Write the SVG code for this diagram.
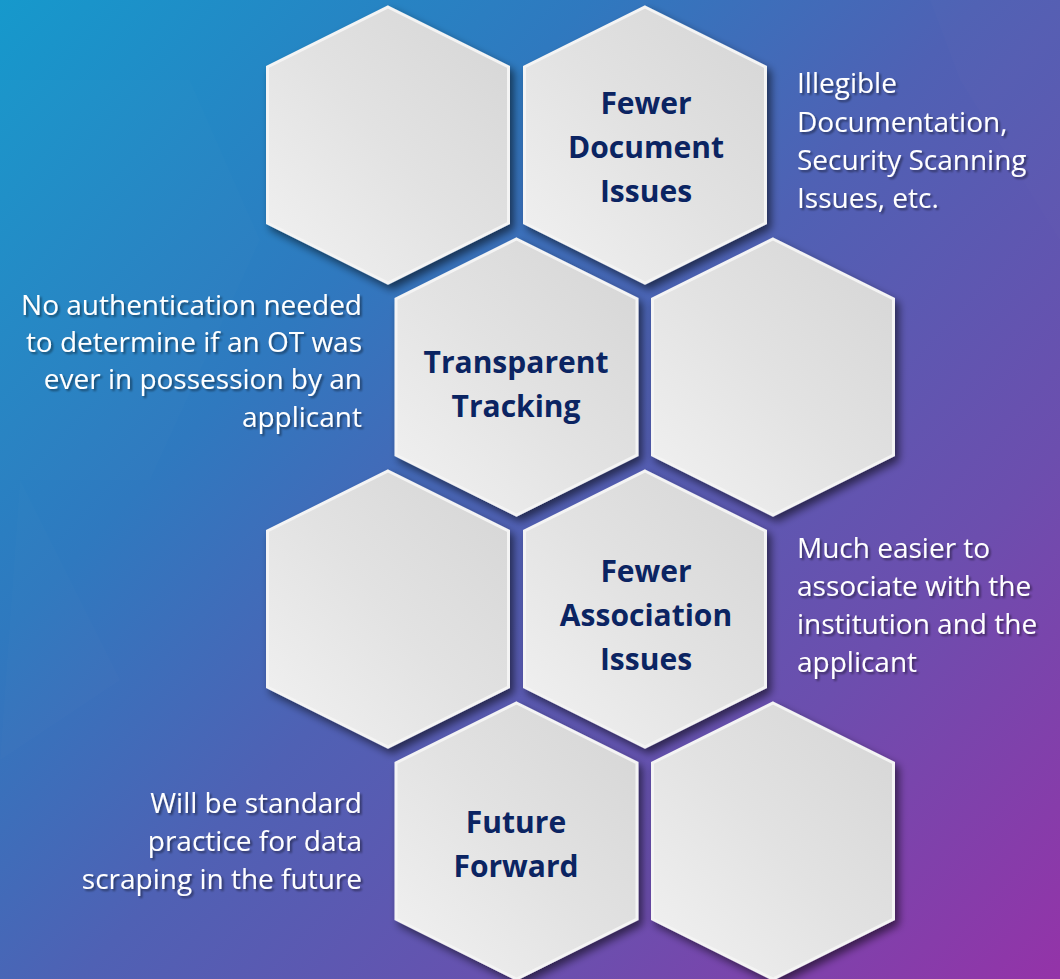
<svg xmlns="http://www.w3.org/2000/svg" width="1060" height="979" viewBox="0 0 1060 979">
  <defs>
    <linearGradient id="bg" gradientUnits="userSpaceOnUse" x1="0" y1="0" x2="1060" y2="979">
      <stop offset="0" stop-color="#1699cc"/>
      <stop offset="0.3" stop-color="#2f79bf"/>
      <stop offset="0.5" stop-color="#4f61b4"/>
      <stop offset="0.75" stop-color="#6c4eae"/>
      <stop offset="1" stop-color="#9433a8"/>
    </linearGradient>
    <linearGradient id="hexFill" x1="0" y1="1" x2="1" y2="0">
      <stop offset="0" stop-color="#f2f2f2"/>
      <stop offset="0.5" stop-color="#e2e2e2"/>
      <stop offset="1" stop-color="#d5d5d5"/>
    </linearGradient>
    <filter id="shadow" x="-20%" y="-20%" width="140%" height="140%">
      <feGaussianBlur in="SourceAlpha" stdDeviation="4"/>
      <feOffset dx="4" dy="5" result="b"/>
      <feComponentTransfer><feFuncA type="linear" slope="0.55"/></feComponentTransfer>
      <feMerge><feMergeNode/><feMergeNode in="SourceGraphic"/></feMerge>
    </filter>
    <filter id="tshadow" x="-10%" y="-20%" width="120%" height="140%">
      <feGaussianBlur in="SourceAlpha" stdDeviation="1"/>
      <feOffset dx="1.5" dy="1.5"/>
      <feComponentTransfer><feFuncA type="linear" slope="0.45"/></feComponentTransfer>
      <feMerge><feMergeNode/><feMergeNode in="SourceGraphic"/></feMerge>
    </filter>
    <polygon id="hex" points="0,-138 120.5,-78 120.5,78 0,138 -120.5,78 -120.5,-78"/>
  </defs>
  <style>
    .hex { fill: url(#hexFill); stroke: #f4f4f4; stroke-width: 3; filter: url(#shadow); }
    .title { font-family: "Open Sans", "Liberation Sans", sans-serif; font-weight: bold; font-size: 30px; fill: #0b2462; text-anchor: middle; }
    .desc { font-family: "Open Sans", "Liberation Sans", sans-serif; font-size: 28px; fill: #ffffff; filter: url(#tshadow); }
    .r { text-anchor: end; }
    .l { text-anchor: start; }
  </style>

  <rect x="0" y="0" width="1060" height="979" fill="url(#bg)"/>
  <g id="bg-facets" fill="#ffffff">
    <polygon points="0,80 190,80 260,240 150,480 0,480" opacity="0.012"/>
    <polygon points="20,480 120,680 0,760" opacity="0.01"/>
    <polygon points="930,0 1060,0 1060,240 960,80" opacity="0.012"/>
  </g>

  <g id="node-empty-1">
    <use href="#hex" class="hex" x="388" y="145"/>
  </g>
  <g id="node-fewer-document-issues">
    <use href="#hex" class="hex" x="645" y="145"/>
    <text class="title" x="646" y="114">Fewer</text>
    <text class="title" x="646" y="158">Document</text>
    <text class="title" x="646" y="202">Issues</text>
  </g>
  <g id="node-transparent-tracking">
    <use href="#hex" class="hex" x="516.5" y="377"/>
    <text class="title" x="516" y="373">Transparent</text>
    <text class="title" x="516" y="417">Tracking</text>
  </g>
  <g id="node-empty-2">
    <use href="#hex" class="hex" x="773" y="377"/>
  </g>
  <g id="node-empty-3">
    <use href="#hex" class="hex" x="388" y="609"/>
  </g>
  <g id="node-fewer-association-issues">
    <use href="#hex" class="hex" x="645" y="609"/>
    <text class="title" x="646" y="582">Fewer</text>
    <text class="title" x="646" y="626">Association</text>
    <text class="title" x="646" y="670">Issues</text>
  </g>
  <g id="node-future-forward">
    <use href="#hex" class="hex" x="516.5" y="841"/>
    <text class="title" x="516" y="833">Future</text>
    <text class="title" x="516" y="877">Forward</text>
  </g>
  <g id="node-empty-4">
    <use href="#hex" class="hex" x="773" y="841"/>
  </g>

  <g id="desc-document">
    <text class="desc l" x="797" y="93">Illegible</text>
    <text class="desc l" x="797" y="132">Documentation,</text>
    <text class="desc l" x="797" y="170">Security Scanning</text>
    <text class="desc l" x="797" y="208">Issues, etc.</text>
  </g>
  <g id="desc-tracking">
    <text class="desc r" x="362" y="315">No authentication needed</text>
    <text class="desc r" x="362" y="352">to determine if an OT was</text>
    <text class="desc r" x="362" y="389">ever in possession by an</text>
    <text class="desc r" x="362" y="427">applicant</text>
  </g>
  <g id="desc-association">
    <text class="desc l" x="797" y="558">Much easier to</text>
    <text class="desc l" x="797" y="596">associate with the</text>
    <text class="desc l" x="797" y="634">institution and the</text>
    <text class="desc l" x="797" y="672">applicant</text>
  </g>
  <g id="desc-future">
    <text class="desc r" x="362" y="813">Will be standard</text>
    <text class="desc r" x="362" y="851">practice for data</text>
    <text class="desc r" x="362" y="889">scraping in the future</text>
  </g>
  <g id="connectors"/>
</svg>
